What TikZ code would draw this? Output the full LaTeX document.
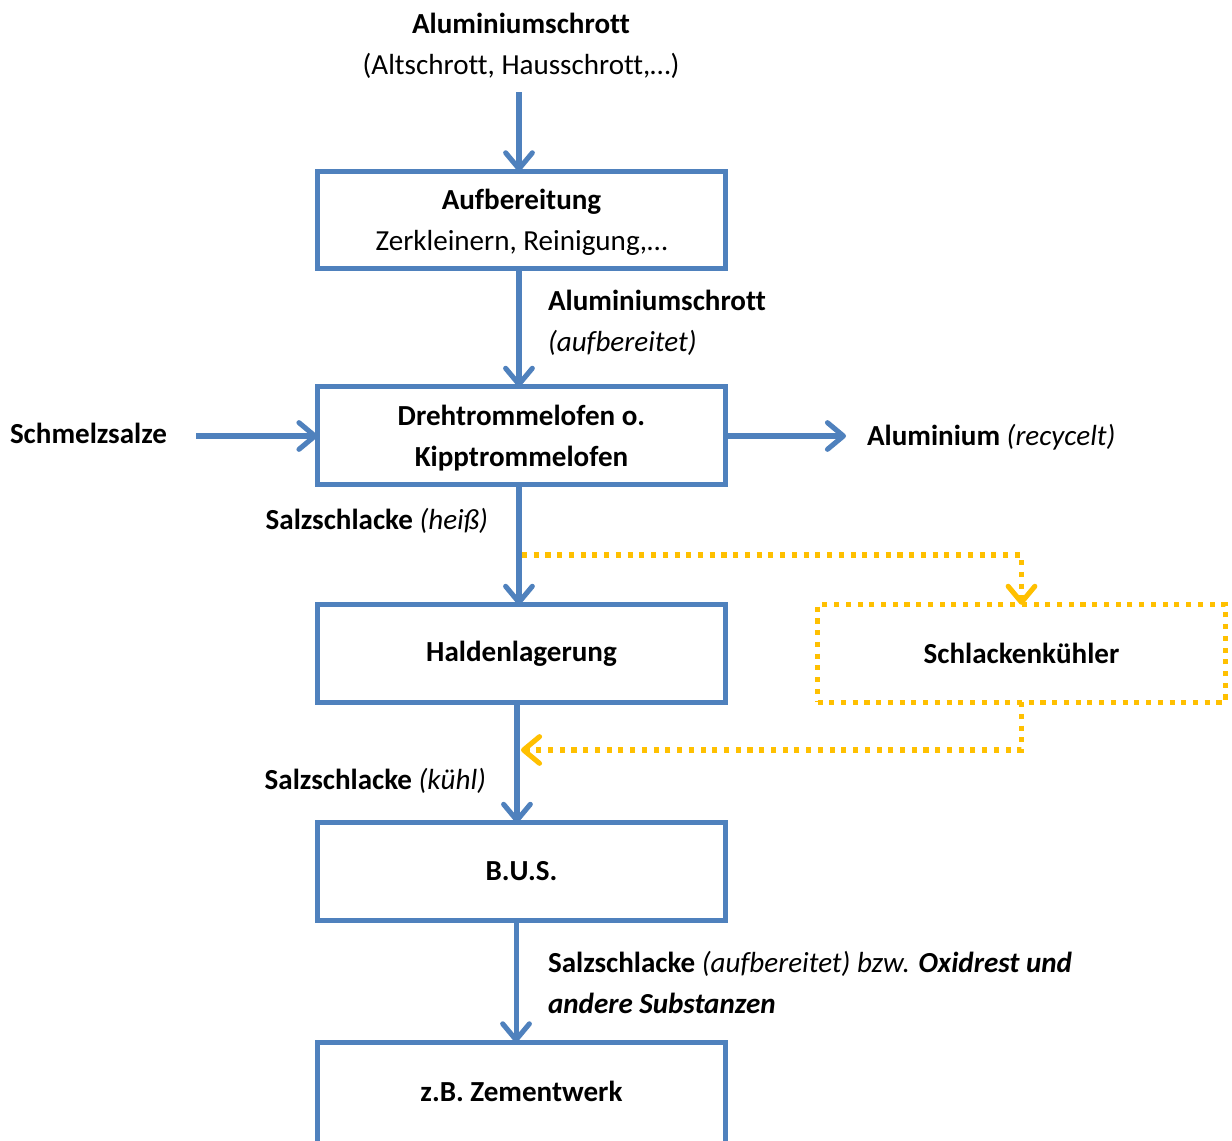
\documentclass[tikz,border=0pt]{standalone}
\usepackage{fontspec}
\setmainfont{Carlito}[Ligatures=NoCommon]
\usetikzlibrary{arrows.meta,calc}
\definecolor{blu}{HTML}{4F81BD}
\definecolor{gold}{HTML}{FFC000}
\begin{document}
\begin{tikzpicture}[x=0.75pt,y=-0.75pt,
 every node/.style={font=\fontsize{21.8}{30.75}\selectfont, inner sep=0pt, outer sep=0pt, text=black},
 proc/.style={draw=blu, line width=3.8pt, minimum width=306pt, minimum height=73pt, align=center},
 cool/.style={draw=gold, line width=3.8pt, dash pattern=on 3.8pt off 5pt, minimum width=306pt, minimum height=73pt},
 flow/.style={draw=blu, line width=3.8pt, -{Straight Barb[length=12pt,width=20pt,line cap=round,line join=round]}},
 bypass/.style={draw=gold, line width=3.8pt, dash pattern=on 3.8pt off 5pt, -{Straight Barb[length=12pt,width=20pt,line cap=round,line join=round]}},
]
\useasboundingbox (0,0) rectangle (1232,1140);
\fill[white] (0,0) rectangle (1232,1140);

% process boxes
\node[proc, text depth=0pt] (aufb) at (521.5,220) {\textbf{Aufbereitung}\\Zerkleinern, Reinigung,…};
\node[proc, text depth=0pt] (ofen) at (521.5,435.5) {\textbf{Drehtrommelofen o.}\\\textbf{Kipptrommelofen}};
\node[proc] (halde) at (521.5,653.5) {\textbf{Haldenlagerung}};
\node[cool] (kuehl) at (1021.5,653.5) {\textbf{Schlackenkühler}};
\node[proc] (bus) at (521.5,871.5) {\textbf{B.U.S.}};
\node[proc, minimum height=82pt, text height=6pt, text depth=0pt] (zement) at (521.5,1097) {\textbf{z.B. Zementwerk}};

% labels
\node[anchor=base] (src1) at (521,33) {\textbf{Aluminiumschrott}};
\node[anchor=base] (src2) at (521,74) {(Altschrott, Hausschrott,…)};
\node[anchor=base west] (mid1) at (548,310) {\textbf{Aluminiumschrott}};
\node[anchor=base west] (mid2) at (548,351) {\textit{(aufbereitet)}};
\node[anchor=base west] (salz) at (10,443) {\textbf{Schmelzsalze}};
\node[anchor=base west] (alu) at (867,445) {\textbf{Aluminium} \textit{(recycelt)}};
\node[anchor=base east] (hot) at (488,529) {\textbf{Salzschlacke} \textit{(heiß)}};
\node[anchor=base east] (cold) at (486,789) {\textbf{Salzschlacke} \textit{(kühl)}};
\node[anchor=base west] (fin1) at (548,972) {\textbf{Salzschlacke} \textit{(aufbereitet) bzw.} \textbf{\textit{Oxidrest und}}};
\node[anchor=base west] (fin2) at (548,1013) {\textbf{\textit{andere Substanzen}}};

% free ends
\coordinate (srcend) at (519,92);
\coordinate (salzend) at (196,436);
\coordinate (alout) at (846,436);
\coordinate (split) at (522,555);
\coordinate (merge) at (521,750);

% blue flows
\draw[flow] (srcend) -- (aufb.north -| srcend);
\draw[flow] ([xshift=-1.9pt]aufb.south) -- ([xshift=-1.9pt]ofen.north);
\draw[flow] (salzend) -- (ofen.west |- salzend);
\draw[flow] (ofen.east |- alout) -- (alout);
\draw[flow] ([xshift=-1.9pt]ofen.south) -- ([xshift=-1.9pt]halde.north);
\draw[flow] ([xshift=-3.4pt]halde.south) -- ([xshift=-3.4pt]bus.north);
\draw[flow] ([xshift=-4.1pt]bus.south) -- ([xshift=-4.1pt]zement.north);

% cooler bypass
\draw[bypass] (split) -| (kuehl.north);
\draw[bypass] (kuehl.south) |- (merge);
\end{tikzpicture}
\end{document}
